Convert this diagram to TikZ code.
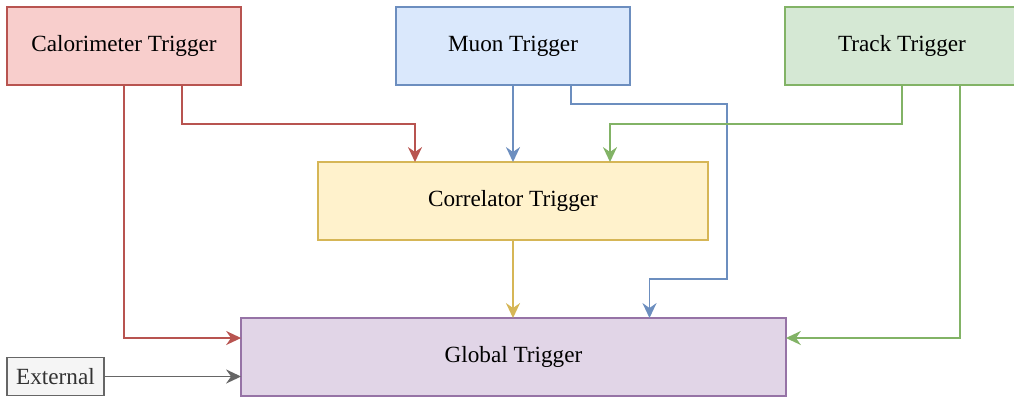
\documentclass[tikz,border=0pt]{standalone}
\usepackage{fontspec}
\setmainfont{Liberation Serif}
\usetikzlibrary{calc,arrows.meta}

\definecolor{caloFill}{HTML}{F8CECC}
\definecolor{caloLine}{HTML}{B85450}
\definecolor{muonFill}{HTML}{DAE8FC}
\definecolor{muonLine}{HTML}{6C8EBF}
\definecolor{trackFill}{HTML}{D5E8D4}
\definecolor{trackLine}{HTML}{82B366}
\definecolor{corrFill}{HTML}{FFF2CC}
\definecolor{corrLine}{HTML}{D6B656}
\definecolor{globFill}{HTML}{E1D5E7}
\definecolor{globLine}{HTML}{9673A6}
\definecolor{extFill}{HTML}{F5F5F5}
\definecolor{extLine}{HTML}{666666}

\begin{document}
\begin{tikzpicture}[x=0.02cm, y=-0.02cm]
                \useasboundingbox (0,0) rectangle (1014,397);

                \begin{scope}[every node/.style={line width=0.9pt, draw, rectangle, inner sep=0, outer sep=0, minimum width=4.68cm, minimum height=1.56cm, font=\fontsize{13.2}{16}\selectfont}]
                        \node [fill=caloFill, draw=caloLine] (calo) at (124,46) {Calorimeter Trigger};
                        \node [fill=muonFill, draw=muonLine] (muon) at (513,46) {Muon Trigger};
                        \node [fill=trackFill, draw=trackLine] (track) at (902,46) {Track Trigger};
                        \node [fill=corrFill, draw=corrLine, minimum width=7.8cm] (corr) at (513,201) {Correlator Trigger};
                        \node [fill=globFill, draw=globLine, minimum width=10.9cm] (glob) at (513.5,357) {Global Trigger};
                        \node [fill=extFill, draw=extLine, text=black!80, minimum width=1.94cm, minimum height=0.76cm] (ext) at (55.5,376.5) {External};
                \end{scope}

                % points on the box sides
                \coordinate (calo3) at ($(calo.south)+(58,0)$);
                \coordinate (muon3) at ($(muon.south)+(58,0)$);
                \coordinate (track3) at ($(track.south)+(58,0)$);
                \coordinate (corr1) at ($(corr.north)+(-98,0)$);
                \coordinate (corr3) at ($(corr.north)+(97,0)$);
                \coordinate (glob3) at ($(glob.north)+(136,0)$);
                \coordinate (globL1) at ($(glob.north west)+(0,20)$);
                \coordinate (globR1) at ($(glob.north east)+(0,20)$);
                \coordinate (upmid) at ($(calo.south)+(0,39)$);
                \coordinate (lowmid) at ($(corr.south)+(0,39)$);
                \coordinate (muonR) at ($(corr.east)+(19,0)$);

                \begin{scope}[every path/.style={line width=0.9pt, ->, >={Stealth[length=8.5pt, width=8pt, inset=2.8pt]}}]
                        \draw [caloLine] (calo3) |- (corr1 |- upmid) -- (corr1);
                        \draw [caloLine] (calo.south) |- (globL1);
                        \draw [muonLine] (muon.south) -- (corr.north);
                        \draw [muonLine] (muon3) -- ++(0,19) -| (muonR) |- (glob3 |- lowmid) -- (glob3);
                        \draw [trackLine] (track.south) |- (corr3 |- upmid) -- (corr3);
                        \draw [trackLine] (track3) |- (globR1);
                        \draw [corrLine] (corr.south) -- (corr.south |- glob.north);
                        \draw [extLine] (ext.east) -- (ext.east -| glob.west);
                \end{scope}
        \end{tikzpicture}
\end{document}
